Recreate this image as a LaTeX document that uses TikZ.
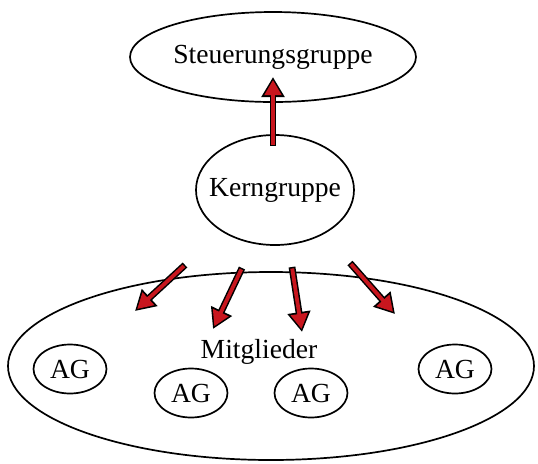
\documentclass[tikz,border=0pt]{standalone}
\usepackage{fontspec}
\setmainfont{Liberation Serif}
\usepackage{tikz}
\usetikzlibrary{
arrows.meta,
positioning,
shapes.geometric
}
\definecolor{FlowRed}{HTML}{C8161E}

\tikzset{
    group/.style={
        ellipse,
        draw=black,
        line width=0.85pt,
        inner sep=0pt
    },
    flowouter/.style={
        draw=black,
        line width=3.4pt,
        -{Triangle[length=10pt,width=11pt]}
    },
    flowinner/.style={
        draw=FlowRed,
        line width=1.9pt,
        shorten <=0.75pt,
        shorten >=1.5pt,
        -{Triangle[length=7.6pt,width=8.2pt]}
    }
}

\begin{document}
\begin{tikzpicture}[
    x=0.5pt,
    y=-0.5pt,
    font=\fontsize{13.8}{16}\selectfont
]

\useasboundingbox (0,0) rectangle (538,463);

% =========================
% GROUPS
% =========================
\node[
    group,
    inner xsep=-8pt,
    minimum width=143pt,
    minimum height=45pt
]
(steuerung) at (273,57)
{Steuerungsgruppe};

\node[
    group,
    inner xsep=-8pt,
    minimum width=79pt,
    minimum height=55pt
]
(kern) at (275,190)
{Kerngruppe};

\node[
    group,
    minimum width=263pt,
    minimum height=94pt
]
(mitglieder) at (271,366)
{};

\node (mitgliederlabel) at (259,352) {Mitglieder};

% =========================
% WORKING GROUPS
% =========================
\foreach \name/\px/\py in {ag1/70/369, ag2/191/393, ag3/311/393, ag4/455/369}
{
    \node[
        group,
        minimum width=36.5pt,
        minimum height=24.5pt
    ]
    (\name) at (\px,\py)
    {AG};
}

% =========================
% ARROW END POINTS
% =========================
\coordinate (up0) at (273,146);
\coordinate (up1) at (273,77);

\coordinate (a0) at (185,265);
\coordinate (a1) at (135,311);
\coordinate (b0) at (242,268);
\coordinate (b1) at (213,329);
\coordinate (c0) at (292,267);
\coordinate (c1) at (302,332);
\coordinate (d0) at (350,263);
\coordinate (d1) at (395,314);

% =========================
% ARROWS
% =========================
\foreach \from/\to in {up0/up1, a0/a1, b0/b1, c0/c1, d0/d1}
{
    \draw[flowouter] (\from) -- (\to);
    \draw[flowinner] (\from) -- (\to);
}

\end{tikzpicture}
\end{document}
